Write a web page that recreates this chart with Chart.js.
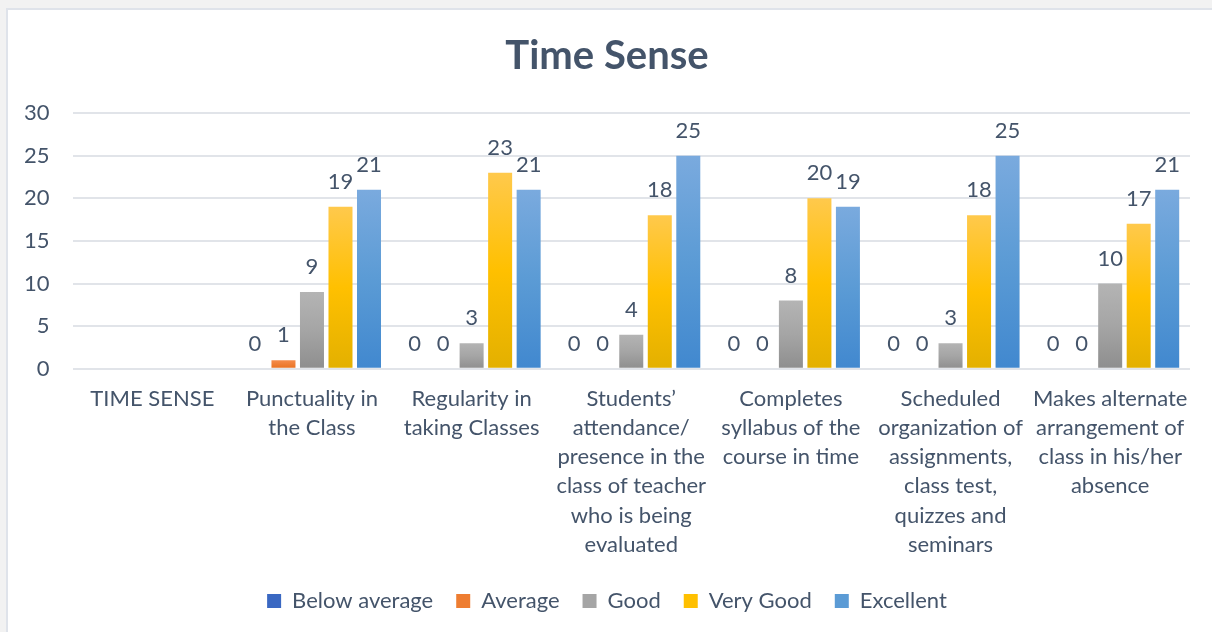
<!DOCTYPE html>
<html>
<head>
<meta charset="utf-8">
<title>Time Sense</title>
<script src="https://cdn.jsdelivr.net/npm/chart.js@4.4.1/dist/chart.umd.min.js"></script>
<style>
  html, body { margin: 0; padding: 0; background: #f2f2f2; overflow: hidden; }
  #frame {
    position: absolute; left: 6px; top: 8px;
    width: 1206px; height: 624px;
    background: #fff;
    border-left: 2px solid #dfe3ea;
    border-top: 2px solid #dfe3ea;
  }
</style>
</head>
<body>
<div id="frame"><canvas id="chart"></canvas></div>
<script>
// Categories (multi-line labels as they wrap in the original)
const categories = [
    "TIME SENSE",
    ["Punctuality in", "the Class"],
    ["Regularity in", "taking Classes"],
    ["Students\u2019", "attendance/", "presence in the", "class of teacher", "who is being", "evaluated"],
    ["Completes", "syllabus of the", "course in time"],
    ["Scheduled", "organization of", "assignments,", "class test,", "quizzes and", "seminars"],
    ["Makes alternate", "arrangement of", "class in his/her", "absence"]
];

// Series values (first category carries no data)
const belowAverage = [null, 0, 0, 0, 0, 0, 0];
const average      = [null, 1, 0, 0, 0, 0, 0];
const good         = [null, 9, 3, 4, 8, 3, 10];
const veryGood     = [null, 19, 23, 18, 20, 18, 17];
const excellent    = [null, 21, 21, 25, 19, 25, 21];

const yTicks = [0, 5, 10, 15, 20, 25, 30];

const textColor = '#44546a';
const fontFamily = 'Lato';

// Excel-like vertical gradient for each bar, from its top to the baseline
function barFill(stops, flat) {
    return (ctx) => {
        if (ctx.type !== 'data') return flat;
        const chart = ctx.chart;
        const y = chart.scales.y;
        if (!chart.chartArea || !y || ctx.raw == null) return flat;
        const top = y.getPixelForValue(ctx.raw);
        const base = y.getPixelForValue(0);
        if (!isFinite(top) || base - top < 1) return flat;
        const g = chart.ctx.createLinearGradient(0, top, 0, base);
        stops.forEach((c, i) => g.addColorStop(i / (stops.length - 1), c));
        return g;
    };
}

// Value labels drawn above every bar
const valueLabels = {
    id: 'valueLabels',
    afterDatasetsDraw(chart) {
        const c = chart.ctx;
        c.save();
        c.font = '22px ' + fontFamily;
        c.fillStyle = textColor;
        c.textAlign = 'center';
        c.textBaseline = 'alphabetic';
        chart.data.datasets.forEach((ds, i) => {
            chart.getDatasetMeta(i).data.forEach((bar, j) => {
                const v = ds.data[j];
                if (v == null) return;
                c.fillText(String(v), bar.x, bar.y - 18);
            });
        });
        c.restore();
    }
};

const ctx = document.getElementById('chart').getContext('2d');
new Chart(ctx, {
    type: 'bar',
    data: {
        labels: categories,
        datasets: [
            { label: 'Below average', data: belowAverage,
              backgroundColor: barFill(['#4a79ca', '#2f5eb0'], '#3a68c2') },
            { label: 'Average', data: average,
              backgroundColor: barFill(['#f58c4c', '#e8701f'], '#ee7d31') },
            { label: 'Good', data: good,
              backgroundColor: barFill(['#b4b4b4', '#a5a5a5', '#8e8e8e'], '#a5a5a5') },
            { label: 'Very Good', data: veryGood,
              backgroundColor: barFill(['#ffc94c', '#ffc000', '#e3b000'], '#ffc000') },
            { label: 'Excellent', data: excellent,
              backgroundColor: barFill(['#7aaade', '#5b9bd5', '#4188cf'], '#5b9bd5') }
        ]
    },
    options: {
        responsive: true,
        maintainAspectRatio: false,
        animation: false,
        categoryPercentage: 0.893,
        barPercentage: 0.842,
        layout: { padding: { left: 16, right: 24, top: 0, bottom: 12 } },
        plugins: {
            title: {
                display: true,
                text: 'Time Sense',
                color: textColor,
                font: { family: fontFamily, size: 40, weight: 'bold' },
                padding: { top: 22, bottom: 33 }
            },
            legend: {
                position: 'bottom',
                labels: {
                    color: textColor,
                    font: { family: fontFamily, size: 22 },
                    boxWidth: 14,
                    boxHeight: 14,
                    padding: 23
                }
            },
            tooltip: { enabled: false }
        },
        scales: {
            x: {
                grid: { display: false, drawTicks: false },
                border: { display: false },
                ticks: {
                    color: textColor,
                    font: { family: fontFamily, size: 22, lineHeight: 1.32 },
                    maxRotation: 0,
                    minRotation: 0,
                    autoSkip: false,
                    padding: 16
                },
                // Chart.js reserves the tick padding twice; keep only part of it as gap to the legend
                afterFit: (scale) => {
                    scale.paddingLeft = 0;
                    scale.paddingRight = 0;
                    scale.height -= scale.options.ticks.padding - 8;
                }
            },
            y: {
                min: 0,
                max: 30,
                afterBuildTicks: (scale) => {
                    scale.ticks = yTicks.map(v => ({ value: v }));
                },
                afterFit: (scale) => {
                    scale.width -= scale.options.ticks.padding;
                },
                grid: { color: '#e1e4e9', lineWidth: 2, drawTicks: false },
                border: { display: false },
                ticks: {
                    color: textColor,
                    font: { family: fontFamily, size: 22 },
                    padding: 23
                }
            }
        }
    },
    plugins: [valueLabels]
});
</script>
</body>
</html>
